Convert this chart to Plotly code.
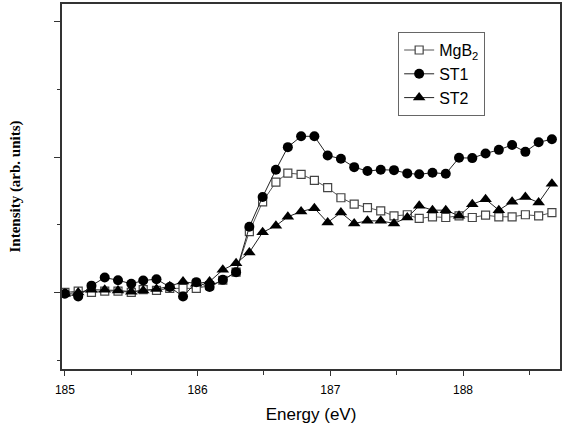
import plotly.graph_objects as go

energy = [185.00, 185.10, 185.20, 185.30, 185.40, 185.50, 185.59, 185.69, 185.79, 185.89,
          185.99, 186.09, 186.19, 186.29, 186.39, 186.49, 186.59, 186.68, 186.78, 186.88,
          186.98, 187.08, 187.18, 187.28, 187.38, 187.48, 187.58, 187.67, 187.77, 187.87,
          187.97, 188.07, 188.17, 188.27, 188.37, 188.47, 188.57, 188.67]

mgb2 = [0.00, 0.01, 0.00, 0.01, 0.01, 0.00, 0.02, 0.015, 0.03, 0.03,
        0.03, 0.05, 0.09, 0.15, 0.45, 0.67, 0.816, 0.882, 0.873, 0.829,
        0.774, 0.70, 0.652, 0.627, 0.603, 0.566, 0.574, 0.547, 0.559, 0.554,
        0.566, 0.554, 0.571, 0.559, 0.559, 0.574, 0.566, 0.59]

st1 = [-0.01, -0.03, 0.05, 0.11, 0.09, 0.064, 0.088, 0.098, 0.04, -0.03,
       0.076, 0.04, 0.093, 0.15, 0.485, 0.706, 0.907, 1.074, 1.154, 1.154,
       1.012, 0.988, 0.926, 0.897, 0.907, 0.904, 0.88, 0.873, 0.885, 0.877,
       0.995, 0.993, 1.027, 1.054, 1.09, 1.039, 1.11, 1.132]

st2 = [-0.01, 0.00, 0.02, 0.02, 0.015, 0.005, 0.015, 0.025, 0.045, 0.08,
       0.065, 0.08, 0.167, 0.215, 0.296, 0.444, 0.493, 0.559, 0.598, 0.623,
       0.517, 0.59, 0.51, 0.529, 0.529, 0.51, 0.554, 0.64, 0.608, 0.608,
       0.566, 0.652, 0.689, 0.608, 0.671, 0.706, 0.664, 0.804]

x_ticks = [185, 186, 187, 188]

fig = go.Figure()
fig.add_trace(go.Scatter(
    x=energy, y=mgb2, name="MgB<sub>2</sub>", mode="lines+markers",
    line=dict(color="#555555", width=1),
    marker=dict(symbol="square", size=8, color="white", line=dict(color="#444444", width=1.2))))
fig.add_trace(go.Scatter(
    x=energy, y=st1, name="ST1", mode="lines+markers",
    line=dict(color="#222222", width=1),
    marker=dict(symbol="circle", size=10, color="black")))
fig.add_trace(go.Scatter(
    x=energy, y=st2, name="ST2", mode="lines+markers",
    line=dict(color="#222222", width=1),
    marker=dict(symbol="triangle-up", size=11, color="black")))

fig.update_layout(
    width=564, height=433,
    margin=dict(l=62, r=3, t=2, b=64),
    paper_bgcolor="white", plot_bgcolor="white",
    font=dict(family="Liberation Sans, Arial", color="black"),
    showlegend=True,
    legend=dict(x=0.675, y=0.923, xanchor="left", yanchor="top",
                bordercolor="#666666", borderwidth=1, bgcolor="white",
                font=dict(size=16, family="Liberation Sans, Arial"),
                tracegroupgap=0, itemwidth=30),
    xaxis=dict(range=[184.978, 188.731], tickvals=x_ticks,
               ticktext=[str(t) for t in x_ticks],
               ticks="outside", ticklen=5, tickwidth=1, tickcolor="#333",
               ticklabelstandoff=4,
               minor=dict(dtick=0.5, tick0=185, ticks="outside", ticklen=4, tickcolor="#333"),
               showline=True, linecolor="#333", linewidth=1.5, mirror=True,
               showgrid=False, zeroline=False,
               tickfont=dict(size=12, family="Liberation Sans, Arial"),
               title=dict(text="Energy (eV)", font=dict(size=17, family="Liberation Sans, Arial"), standoff=12)),
    yaxis=dict(range=[-0.566, 2.132], tick0=0, dtick=1,
               ticks="outside", ticklen=6, tickwidth=1, tickcolor="#333",
               showticklabels=False,
               minor=dict(dtick=0.5, tick0=0, ticks="outside", ticklen=3, tickcolor="#333"),
               showline=True, linecolor="#333", linewidth=1.5, mirror=True,
               showgrid=False, zeroline=False,
               title=dict(text="<b>Intensity (arb. units)</b>",
                          font=dict(size=15, family="Liberation Serif, Times New Roman"), standoff=30)),
)

fig.write_html("out.html")
